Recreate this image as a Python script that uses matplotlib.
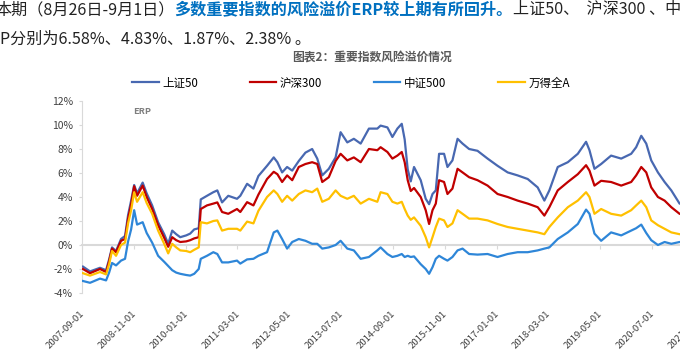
import pandas as pd
import matplotlib
matplotlib.use("Agg")
import matplotlib.pyplot as plt
from matplotlib.ticker import MultipleLocator, FuncFormatter

plt.rcParams['font.family'] = ['Noto Sans CJK SC', 'DejaVu Sans']

# values (ERP, %)
dates = ["2007-09-09", "2007-11-06", "2008-01-27", "2008-03-17", "2008-04-11", "2008-05-05",
         "2008-06-07", "2008-07-18", "2008-08-20", "2008-09-14", "2008-10-09", "2008-11-03",
         "2008-11-27", "2009-01-12", "2009-02-14", "2009-03-31", "2009-05-19", "2009-07-08",
         "2009-08-10", "2009-09-12", "2009-10-15", "2009-11-17", "2010-01-05", "2010-02-07",
         "2010-03-12", "2010-04-18", "2010-05-05", "2010-06-25", "2010-08-16", "2010-09-18",
         "2010-10-27", "2010-12-17", "2011-02-27", "2011-03-26", "2011-05-21", "2011-07-12",
         "2011-08-22", "2011-11-01", "2011-12-26", "2012-01-25", "2012-03-04", "2012-04-14",
         "2012-05-26", "2012-07-19", "2012-09-12", "2012-11-06", "2012-12-18", "2013-01-28",
         "2013-03-23", "2013-05-18", "2013-06-28", "2013-08-22", "2013-10-15", "2013-12-10",
         "2014-02-16", "2014-04-26", "2014-05-23", "2014-07-18", "2014-08-28", "2014-10-08",
         "2014-11-13", "2014-12-07", "2015-01-01", "2015-01-26", "2015-02-22", "2015-04-18",
         "2015-05-29", "2015-06-26", "2015-07-24", "2015-08-20", "2015-09-16", "2015-10-27",
         "2015-11-24", "2016-01-04", "2016-02-15", "2016-03-27", "2016-05-20", "2016-07-28",
         "2016-10-19", "2017-01-09", "2017-04-02", "2017-06-23", "2017-09-14", "2017-12-05",
         "2018-01-29", "2018-03-11", "2018-05-19", "2018-08-10", "2018-10-31", "2019-01-07",
         "2019-02-04", "2019-03-17", "2019-05-11", "2019-08-01", "2019-10-23", "2020-01-13",
         "2020-02-23", "2020-04-05", "2020-05-16", "2020-06-26", "2020-08-20", "2020-10-14",
         "2020-12-08", "2021-02-14", "2021-03-09"]

sz50 = [-1.8, -2.2, -1.9, -2.1, -1.2, -0.2, -0.5, 0.5, 0.75, 2.5, 3.7, 5.0,
        4.3, 5.2, 4.3, 3.3, 1.9, 0.9, 0.1, 1.2, 0.9, 0.65, 0.8, 0.95,
        1.3, 1.4, 3.8, 4.1, 4.4, 4.55, 3.55, 4.1, 3.85, 4.1, 5.1, 4.7,
        5.75, 6.6, 7.3, 6.9, 6.05, 6.5, 6.2, 7.0, 7.7, 8.0, 7.2, 5.8,
        6.35, 7.3, 9.4, 8.55, 8.85, 8.45, 9.7, 9.7, 9.95, 9.8, 9.0, 9.7,
        10.1, 8.8, 6.3, 5.3, 6.5, 5.4, 3.85, 3.4, 4.25, 4.55, 7.6, 7.6,
        6.5, 7.05, 8.85, 8.45, 8.0, 7.85, 7.2, 6.6, 6.05, 5.8, 5.5, 4.8,
        3.7, 4.55, 6.5, 6.9, 7.6, 8.6, 7.9, 6.35, 6.75, 7.45, 7.2, 7.6,
        8.15, 9.1, 8.45, 7.05, 6.05, 5.25, 4.55, 3.45, 3.4]

hs300 = [-2.0, -2.35, -2.0, -2.25, -1.35, -0.3, -0.6, 0.35, 0.5, 2.2, 3.4, 4.9,
         4.1, 4.95, 4.0, 3.0, 1.65, 0.6, -0.15, 0.65, 0.4, 0.25, 0.3, 0.4,
         0.55, 0.65, 3.0, 3.3, 3.45, 3.55, 2.75, 2.6, 3.0, 2.75, 3.57, 3.3,
         4.2, 5.5, 6.1, 5.9, 5.25, 5.8, 5.4, 6.5, 6.75, 6.9, 6.75, 5.25,
         5.65, 7.0, 7.6, 7.05, 7.3, 6.9, 8.0, 7.9, 8.15, 7.75, 7.2, 7.45,
         7.75, 6.9, 5.4, 4.5, 4.75, 4.0, 2.9, 1.75, 2.9, 3.45, 5.4, 5.25,
         4.25, 4.7, 6.35, 6.05, 5.65, 5.4, 4.95, 4.25, 4.0, 3.7, 3.45, 3.15,
         2.45, 3.15, 4.55, 5.25, 5.9, 6.65, 6.2, 4.95, 5.35, 5.25, 4.95, 5.25,
         5.8, 6.5, 6.05, 4.8, 4.0, 3.7, 3.15, 2.6, 2.55]

zz500 = [-3.0, -3.15, -2.8, -2.95, -2.3, -1.5, -1.7, -1.3, -1.15, 0.3, 1.3, 2.9,
         1.7, 1.9, 1.0, 0.2, -0.9, -1.4, -1.75, -2.1, -2.3, -2.4, -2.5, -2.55,
         -2.4, -2.0, -1.15, -0.9, -0.6, -0.75, -1.45, -1.45, -1.3, -1.55, -1.2, -1.15,
         -0.9, -0.6, 1.05, 1.2, 0.5, -0.3, 0.25, 0.5, 0.35, 0.1, 0.1, -0.3,
         -0.2, 0.0, 0.35, -0.3, -0.45, -1.15, -1.0, -0.45, -0.2, -0.75, -1.0, -0.9,
         -0.75, -1.0, -0.9, -1.0, -0.95, -1.6, -2.0, -2.4, -1.85, -1.15, -0.9, -1.15,
         -1.3, -1.0, -0.45, -0.3, -0.75, -0.8, -0.75, -1.0, -0.75, -0.6, -0.6, -0.45,
         -0.3, -0.2, 0.5, 1.05, 1.75, 2.95, 2.6, 0.95, 0.35, 1.05, 0.8, 1.2,
         1.4, 1.7, 1.0, 0.4, 0.0, 0.25, 0.1, 0.25, 0.2]

wind_a = [-2.35, -2.55, -2.25, -2.45, -1.6, -0.5, -0.9, 0.0, 0.2, 1.8, 2.9, 4.4,
          3.6, 4.4, 3.5, 2.6, 1.2, 0.1, -0.7, 0.1, -0.2, -0.45, -0.5, -0.6,
          -0.4, -0.2, 1.9, 1.8, 2.0, 2.05, 1.2, 1.35, 1.35, 1.2, 1.95, 1.8,
          2.85, 4.0, 4.55, 4.25, 3.6, 4.1, 3.7, 4.25, 4.55, 4.4, 4.7, 3.6,
          3.85, 4.55, 4.1, 3.85, 4.1, 3.45, 3.85, 3.6, 4.4, 4.25, 3.6, 3.45,
          3.6, 3.0, 2.45, 2.1, 2.3, 1.6, 0.65, -0.2, 0.65, 1.5, 2.2, 2.05,
          1.5, 1.8, 2.9, 2.6, 2.2, 2.2, 2.05, 1.75, 1.5, 1.35, 1.2, 1.05,
          0.9, 1.5, 2.3, 3.15, 3.7, 4.4, 4.0, 2.6, 3.0, 2.6, 2.45, 2.9,
          3.3, 3.7, 3.15, 2.05, 1.65, 1.35, 1.05, 0.9, 0.9]

series_names = ["上证50", "沪深300", "中证500", "万得全A"]
colors = ["#4868B1", "#C00000", "#2E86D8", "#FFC000"]

tick_labels = ["2007-09-01", "2008-11-01", "2010-01-01", "2011-03-01", "2012-05-01",
               "2013-07-01", "2014-09-01", "2015-11-01", "2017-01-01", "2018-03-01",
               "2019-05-01", "2020-07-01", "2021-09-01"]

x = pd.to_datetime(dates)
ticks = pd.to_datetime(tick_labels)

fig = plt.figure(figsize=(6.8, 3.52), dpi=100)
W, H = 680, 352
ax = fig.add_axes([82 / W, 59 / H, 622 / W, 192 / H])

for vals, name, c in zip([sz50, hs300, zz500, wind_a], series_names, colors):
    ax.plot(x, vals, color=c, lw=1.6, label=name, zorder=3)

ax.set_xlim(pd.Timestamp("2007-09-01"), pd.Timestamp("2021-09-03"))
ax.set_ylim(-4, 12)
ax.yaxis.set_major_locator(MultipleLocator(2))
ax.yaxis.set_major_formatter(FuncFormatter(lambda v, p: "{:.0f}%".format(v)))

for s in ["top", "right"]:
    ax.spines[s].set_visible(False)
ax.spines["left"].set_color("#D9D9D9")
ax.spines["bottom"].set_position(("data", 0))
ax.spines["bottom"].set_color("#D9D9D9")
ax.spines["bottom"].set_linewidth(1.5)
ax.spines["bottom"].set_zorder(1)

ax.set_xticks(ticks)
ax.tick_params(axis="x", direction="out", length=3, color="#D9D9D9", labelbottom=False)
ax.tick_params(axis="y", direction="out", length=2.5, color="#D9D9D9", pad=4,
               labelsize=7.5, labelcolor="#404040")

# date labels sit at the bottom of the plot, not on the zero line
for d, lab in zip(ticks, tick_labels):
    ax.annotate(lab, xy=(d, 0), xycoords=("data", "axes fraction"),
                xytext=(3, -11.5), textcoords="offset points", rotation=45,
                ha="right", va="top", fontsize=6.9, color="#404040",
                annotation_clip=False)

ax.text(0.0965, 0.943, "ERP", transform=ax.transAxes, ha="center", va="center",
        fontsize=6.5, fontweight="bold", color="#7F7F7F")

fig.text(372 / W, 1 - 58 / H, "图表2：重要指数风险溢价情况", ha="center", va="center",
         fontsize=8.5, fontweight="bold", color="#595959")

fig.legend(loc="center left", bbox_to_anchor=(132 / W, 1 - 83 / H), ncol=4,
           frameon=False, fontsize=8.3, handlelength=2.3, handletextpad=0.3,
           columnspacing=4.5, borderpad=0, borderaxespad=0)

# header text above the chart (cropped in the source)
fs = 11.6
t1 = ax.annotate("本期（8月26日-9月1日）", xy=(-5, H - 9.5), xycoords="figure pixels",
                 ha="left", va="center", fontsize=fs, color="#222222", annotation_clip=False)
t2 = ax.annotate("多数重要指数的风险溢价ERP较上期有所回升。", xy=(1, 0.5), xycoords=t1,
                 ha="left", va="center", fontsize=fs, fontweight="bold", color="#0070C0",
                 annotation_clip=False)
ax.annotate("上证50、  沪深300 、中证500", xy=(1, 0.5), xycoords=t2,
            ha="left", va="center", fontsize=fs, color="#222222", annotation_clip=False)
t4 = ax.annotate("ER", xy=(0, H - 39), xycoords="figure pixels",
                 ha="right", va="center", fontsize=fs, color="#222222", annotation_clip=False)
ax.annotate("P分别为6.58%、4.83%、1.87%、2.38% 。", xy=(1, 0.5), xycoords=t4,
            ha="left", va="center", fontsize=fs, color="#222222", annotation_clip=False)

fig.savefig("out.png", dpi=100)
